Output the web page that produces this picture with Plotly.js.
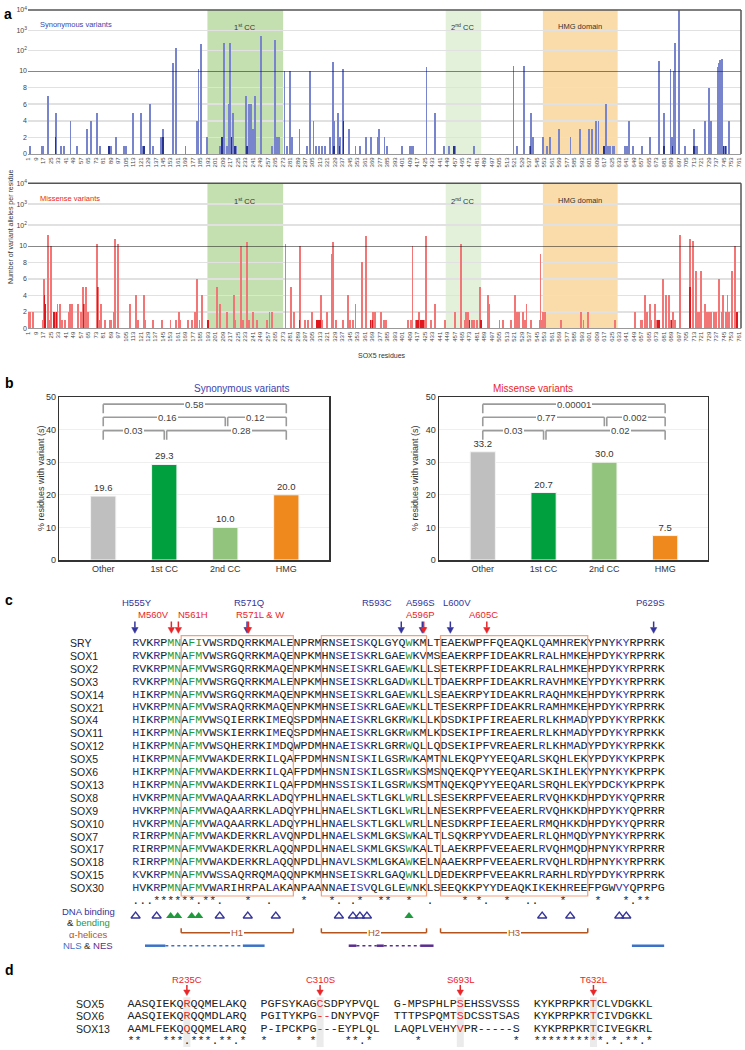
<!DOCTYPE html>
<html>
<head>
<meta charset="utf-8">
<script src="https://cdn.plot.ly/plotly-3.0.1.min.js"></script>
<style>
  body { margin: 0; background: #fff; }
  #fig { width: 745px; height: 1050px; }
</style>
</head>
<body>
<div id="fig"></div>
<script>
// ---------- panel a: variant alleles per SOX5 residue ----------
const synRes = [3,15,17,22,30,36,39,46,53,64,68,74,78,87,89,95,103,105,113,121,124,125,131,134,143,145,156,159,169,181,183,186,192,206,208,210,213,216,217,218,220,222,223,234,235,237,239,241,243,244,250,262,265,267,269,275,278,281,283,291,299,302,306,309,312,315,318,324,327,328,332,334,337,338,344,351,356,362,368,375,376,382,385,401,409,411,413,427,436,446,451,456,457,478,520,524,531,538,539,541,552,556,559,569,581,591,601,604,608,611,617,619,621,623,626,628,639,640,642,644,648,658,666,676,681,688,690,692,693,697,704,713,715,717,725,729,731,739,740,741,743,745,747,751];
const synVal = [1,1,1,7,5,1,1,4,1,3,4,5,1,1,1,2,1,1,5,5,1,1,6,1,2,3,26,140,1,4,12,212,2,1,2,247,1,6,247,2,5,1,1,7,1,6,6,3,7,1,550,1,333,2,2,10,1,10,2,3,1,10,4,1,1,1,1,2,29,4,5,2,10,13,3,1,1,2,2,2,3,2,1,1,1,1,1,15,5,1,1,1,1,1,18,1,18,1,5,2,2,1,2,3,2,3,3,3,4,4,1,6,1,1,1,1,1,1,1,4,1,1,2,32,5,12,2,10,250,9500,1,3,1,1,4,8,4,15,26,35,37,1,1,4];
const synDarkRes = [30,87,124,125,145,208,218,222,235,328,334,338,456,457,538,617,681,690,713,745,747];
const synDarkVal = [2,1,1,1,2,2,2,1,1,1,1,4,1,1,1,1,1,1,1,1,1];

const misRes = [2,3,6,16,18,19,22,23,25,28,29,31,32,35,37,40,44,45,48,54,57,59,60,62,63,65,74,75,76,77,79,83,88,89,92,94,97,110,116,118,125,126,134,144,153,159,162,163,172,176,179,181,184,187,193,203,206,213,221,222,228,231,235,237,241,246,256,259,262,276,282,285,291,292,297,300,304,310,311,313,314,315,320,326,327,330,338,343,345,348,351,358,362,367,369,370,372,378,381,384,407,410,412,416,418,419,421,423,424,426,427,432,436,447,457,464,468,469,471,473,476,478,481,484,485,493,494,505,509,517,522,524,526,530,532,534,539,548,549,550,552,554,571,592,595,600,629,650,656,658,661,663,666,667,671,672,674,676,680,683,686,689,691,693,698,709,712,715,717,719,721,725,727,729,731,735,737,740,743,744,747,749,751,754,757,759];
const misVal = [2,2,2,1,6,3,34,1,10,2,2,2,3,3,1,1,2,3,3,3,2,5,3,1,5,2,13,5,3,1,3,1,1,1,2,21,12,3,4,1,4,1,1,1,1,1,2,1,1,1,2,6,1,4,1,5,3,2,4,1,10,1,16,1,2,1,1,2,2,13,5,2,1,10,1,1,2,1,1,1,4,1,2,9,16,1,1,4,1,1,3,8,30,1,1,2,2,2,1,1,1,1,10,1,1,2,1,1,1,30,1,1,3,1,2,13,1,2,2,1,1,1,1,5,1,4,3,1,1,1,4,2,2,2,1,3,1,1,9,1,2,2,1,2,1,2,1,2,1,1,4,2,3,1,3,2,1,1,6,4,4,1,2,1,34,21,17,7,2,2,7,3,2,2,2,2,2,6,2,4,2,4,2,7,10,2];
const misDarkRes = [18,19,28,29,31,60,75,193,291,310,311,313,367,369,416,418,421,423,473,485,674,676,689,709,759];
const misDarkVal = [4,3,2,2,2,3,5,1,1,1,1,1,1,1,1,1,1,1,1,1,1,1,1,5,2];

const regionNames = ['1<sup>st</sup> CC', '2<sup>nd</sup> CC', 'HMG domain'];
const regionStart = [192.5, 447.5, 551.5];
const regionEnd = [273.5, 485.5, 631.5];
const regionFill = ['#c4e0b0', '#e3f0da', '#fadcaa'];

// ---------- panel b ----------
const bCats = ['Other', '1st CC', '2nd CC', 'HMG'];
const synPct = [19.6, 29.3, 10.0, 20.0];
const misPct = [33.2, 20.7, 30.0, 7.5];
const bColors = ['#bfbfbf', '#00a03e', '#93c47d', '#f0891d'];
const brFrom = [0, 0, 2, 0, 1];
const brTo = [3, 2, 3, 1, 3];
const brLevel = [47.8, 43.8, 43.8, 39.7, 39.7];
const brTextX = [1.5, 1.05, 2.5, 0.5, 2.27];
const synP = ['0.58', '0.16', '0.12', '0.03', '0.28'];
const misP = ['0.00001', '0.77', '0.002', '0.03', '0.02'];

// ---------- panel c ----------
const seqNames = ['SRY','SOX1','SOX2','SOX3','SOX14','SOX21','SOX4','SOX11','SOX12','SOX5','SOX6','SOX13','SOX8','SOX9','SOX10','SOX7','SOX17','SOX18','SOX15','SOX30'];
const seqs = [
  'RVKRPMNAFIVWSRDQRRKMALENPRMRNSEISKQLGYQWKMLTEAEKWPFFQEAQKLQAMHREKYPNYKYRPRRK',
  'RVKRPMNAFMVWSRGQRRKMAQENPKMHNSEISKRLGAEWKVMSEAEKRPFIDEAKRLRALHMKEHPDYKYRPRRK',
  'RVKRPMNAFMVWSRGQRRKMAQENPKMHNSEISKRLGAEWKLLSETEKRPFIDEAKRLRALHMKEHPDYKYRPRRK',
  'RVKRPMNAFMVWSRGQRRKMALENPKMHNSEISKRLGADWKLLTDAEKRPFIDEAKRLRAVHMKEYPDYKYRPRRK',
  'HIKRPMNAFMVWSRGQRRKMAQENPKMHNSEISKRLGAEWKLLSEAEKRPYIDEAKRLRAQHMKEHPDYKYRPRRK',
  'HVKRPMNAFMVWSRAQRRKMAQENPKMHNSEISKRLGAEWKLLTESEKRPFIDEAKRLRAMHMKEHPDYKYRPRRK',
  'HIKRPMNAFMVWSQIERRKIMEQSPDMHNAEISKRLGKRWKLLKDSDKIPFIREAERLRLKHMADYPDYKYRPRKK',
  'HIKRPMNAFMVWSKIERRKIMEQSPDMHNAEISKRLGKRWKMLKDSEKIPFIREAERLRLKHMADYPDYKYRPRKK',
  'HIKRPMNAFMVWSQHERRKIMDQWPDMHNAEISKRLGRRWQLLQDSEKIPFVREAERLRLKHMADYPDYKYRPRKK',
  'HIKRPMNAFMVWAKDERRKILQAFPDMHNSNISKILGSRWKAMTNLEKQPYYEEQARLSKQHLEKYPDYKYKPRPK',
  'HIKRPMNAFMVWAKDERRKILQAFPDMHNSNISKILGSRWKSMSNQEKQPYYEEQARLSKIHLEKYPNYKYKPRPK',
  'HIKRPMNAFMVWAKDERRKILQAFPDMHNSSISKILGSRWKSMTNQEKQPYYEEQARLSRQHLEKYPDCKYKPRPK',
  'HVKRPMNAFMVWAQAARRKLADQYPHLHNAELSKTLGKLWRLLSESEKRPFVEEAERLRVQHKKDHPDYKYQPRRR',
  'HVKRPMNAFMVWAQAARRKLADQYPHLHNAELSKTLGKLWRLLNESEKRPFVEEAERLRVQHKKDHPDYKYQPRRR',
  'HVKRPMNAFMVWAQAARRKLADQYPHLHNAELSKTLGKLWRLLNESDKRPFIEEAERLRMQHKKDHPDYKYQPRRR',
  'RIRRPMNAFMVWAKDERKRLAVQNPDLHNAELSKMLGKSWKALTLSQKRPYVDEAERLRLQHMQDYPNYKYRPRRK',
  'RIRRPMNAFMVWAKDERKRLAQQNPDLHNAELSKMLGKSWKALTLAEKRPFVEEAERLRVQHMQDHPNYKYRPRRR',
  'RIRRPMNAFMVWAKDERKRLAQQNPDLHNAVLSKMLGKAWKELNAAEKRPFVEEAERLRVQHLRDHPNYKYRPRRK',
  'KVKRPMNAFMVWSSAQRRQMAQQNPKMHNSEISKRLGAQWKLLDEDEKRPFVEEAKRLRARHLRDYPDYKYRPRRK',
  'HVKRPMNAFMVWARIHRPALAKANPAANNAEISVQLGLEWNKLSEEQKKPYYDEAQKIKEKHREEFPGWVYQPRPG'
];
const blueCols = [0,3,12,16,20,29,31,32,33,58,62,69,70];
const greenCols = [5,6,8,9,39];
const consStars = [3,4,5,6,7,8,10,11,16,24,28,32,35,36,39,47,49,53,61,66,70,72,73];
const consDots = [0,1,2,9,12,19,29,31,42,50,56,57,71];
const helixNames = ['H1','H2','H3'];
const helixStart = [7, 27, 44];
const helixEnd = [23, 42, 65];
const mutBlue = ['H555Y','R571Q','R593C','A596S','L600V','P629S'];
const mutBlueCol = [0, 16, 38, 41, 45, 74];
const mutBlueLabelX = [0.67, 16.73, 34.9, 41.07, 46.3, 73.9];
const mutRed = ['M560V','N561H','R571L &amp; W','A596P','A605C'];
const mutRedCol = [5, 6, 16, 41, 50];
const mutRedLabelX = [3.12, 8.74, 14.82, 41.07, 50.14];
const nlsFrom = [1.84, 4.74, 15.8, 30.9, 32.0, 34.9, 35.9, 41.1, 71.3];
const nlsTo = [4.74, 15.8, 18.9, 32.0, 34.9, 35.9, 41.1, 43.0, 75.9];
const nlsKind = ['NLS','NLSdot','NLS','NES','NESdot','NES','NESdot','NES','NLS'];

// ---------- panel d ----------
const dNames = ['SOX5','SOX6','SOX13'];
const dBlocks = [
  ['AASQIEKQRQQMELAKQ','PGFSYKAGCSDPYPVQL','G-MPSPHLPSEHSSVSSS','KYKPRPKRTCLVDGKKL'],
  ['AASQIEKQRQQMDLARQ','PGITYKPG--DNYPVQF','TTTPSPQMTSDCSSTSAS','KYKPRPKRTCIVDGKKL'],
  ['AAMLFEKQQQQMELARQ','P-IPCKPG---EYPLQL','LAQPLVEHYVPR-----S','KYKPRPKRTCIVEGKRL']
];
const dCons = ['**   ***.***.**.*','*    * *    **.* ','   *             *','**********.*.**.*'];
const dMut = ['R235C','C310S','S693L','T632L'];
const dMutCol = [8, 8, 9, 8];

// ---------- layout helpers ----------
const W = 745, H = 1050;
const SANS = 'Liberation Sans, Arial, sans-serif';
const MONO = 'Liberation Mono, Courier New, monospace';
const BLUE = '#34349c', GREEN = '#1f9a3c', RED = '#e8262a';
const NB = '\u00a0';
const xd = (a, b) => [a / W, b / W];
const yd = (top, bottom) => [1 - bottom / H, 1 - top / H];
const px = v => v / W;
const py = v => 1 - v / H;
const CW = 7.01;            // monospace character advance
const cLeft = 132.1, cRow0 = 643, cRowH = 12.9;
const dLeft = 127.3, dRow0 = 1004, dRowH = 12.3;

const traces = [];
const shapes = [];
const ann = [];

function txt(o) {
  ann.push(Object.assign({showarrow: false, borderpad: 0, borderwidth: 0,
    font: {family: SANS, size: 9, color: '#222'}}, o));
}
function line(xref, yref, x0, y0, x1, y1, color, width, dash) {
  shapes.push({type: 'line', xref: xref, yref: yref, x0: x0, y0: y0, x1: x1, y1: y1,
    line: {color: color, width: width, dash: dash || 'solid'}});
}
// down-pointing arrow: shaft + filled head
function arrow(xref, yref, x, yTail, yBase, yTip, hw, color) {
  line(xref, yref, x, yTail, x, yBase, color, 1.5);
  shapes.push({type: 'path', xref: xref, yref: yref,
    path: 'M ' + (x - hw) + ',' + yBase + ' L ' + (x + hw) + ',' + yBase + ' L ' + x + ',' + yTip + ' Z',
    fillcolor: color, line: {color: color, width: 0.5}});
}
// one text layer of monospace rows, centred on the middle column
function monoLayer(rows, xs, ys, xa, ya, color) {
  traces.push({type: 'scatter', mode: 'text', x: xs, y: ys, text: rows, xaxis: xa, yaxis: ya,
    textposition: 'middle center', cliponaxis: false, hoverinfo: 'skip',
    textfont: {family: MONO, size: 11.68, color: color}});
}
const mask = (s, keep) => s.split('').map((ch, i) => keep(i) ? ch : NB).join('');

// ---------- panel a ----------
const ticks = [];
for (let r = 1; r <= 763; r += 8) ticks.push(r);

function barSet(res, val, dRes, dVal, xa, yLow, yUp, light, dark) {
  const bigR = res.filter((r, i) => val[i] > 10);
  const bigV = val.filter(v => v > 10);
  traces.push({type: 'bar', x: res, y: val, xaxis: xa, yaxis: yLow, width: 2,
    marker: {color: light}, hoverinfo: 'skip'});
  traces.push({type: 'bar', x: bigR, y: bigV, xaxis: xa, yaxis: yUp, width: 2,
    marker: {color: light}, hoverinfo: 'skip'});
  traces.push({type: 'bar', x: dRes, y: dVal, xaxis: xa, yaxis: yLow, width: 1.6,
    marker: {color: dark}, hoverinfo: 'skip'});
}
barSet(synRes, synVal, synDarkRes, synDarkVal, 'x', 'y', 'y2', '#7885cc', '#26348f');
barSet(misRes, misVal, misDarkRes, misDarkVal, 'x2', 'y3', 'y4', '#f27676', '#e0171d');

const aCharts = [
  {top: 10, bottom: 154, xa: 'x', ylow: 'y', name: 'Synonymous variants', col: '#3b45b0', labY: 20},
  {top: 183.3, bottom: 328.3, xa: 'x2', ylow: 'y3', name: 'Missense variants', col: RED, labY: 194}
];
aCharts.forEach(c => {
  regionNames.forEach((n, i) => {
    shapes.push({type: 'rect', xref: c.xa, yref: 'paper', x0: regionStart[i], x1: regionEnd[i],
      y0: py(c.bottom), y1: py(c.top), fillcolor: regionFill[i], line: {width: 0}, layer: 'below'});
    txt({xref: c.xa, yref: 'paper', x: (regionStart[i] + regionEnd[i]) / 2, y: py(c.labY + 2),
      text: n, font: {family: SANS, size: 7.5, color: '#333'}});
  });
  line(c.xa, c.ylow, 0.5, 10, 763.5, 10, '#111', 1);
  line('paper', 'paper', px(28), py(c.top), px(741), py(c.top), '#555', 1.5);
  line('paper', 'paper', px(741), py(c.top), px(741), py(c.bottom), '#555', 1.5);
  txt({xref: 'paper', yref: 'paper', x: px(40), y: py(c.labY), xanchor: 'left',
    text: c.name, font: {family: SANS, size: 7.5, color: c.col}});
});
txt({xref: 'paper', yref: 'paper', x: px(7), y: py(170), textangle: -90,
  text: 'Number of variant alleles per residue', font: {family: SANS, size: 7, color: '#333'}});
txt({xref: 'paper', yref: 'paper', x: px(382), y: py(355),
  text: 'SOX5 residues', font: {family: SANS, size: 7, color: '#333'}});

const xA = {range: [0.5, 763.5], domain: xd(28, 741), tickmode: 'array', tickvals: ticks,
  ticktext: ticks.map(String), tickangle: -90, tickfont: {family: SANS, size: 6, color: '#444'},
  showline: true, linecolor: '#999', linewidth: 1, ticks: '', showgrid: false, zeroline: false};
const yLowA = {range: [0, 10], tickmode: 'array', tickvals: [0, 2, 4, 6, 8, 10],
  tickfont: {family: SANS, size: 7, color: '#444'}, gridcolor: '#e1e1e1', gridwidth: 1.5,
  zeroline: false, ticks: ''};
const yUpA = {type: 'log', range: [1, 4], tickmode: 'array', tickvals: [100, 1000, 10000],
  ticktext: ['10<sup>2</sup>', '10<sup>3</sup>', '10<sup>4</sup>'],
  tickfont: {family: SANS, size: 7, color: '#444'}, gridcolor: '#e1e1e1', gridwidth: 1.5,
  zeroline: false, ticks: ''};

// ---------- panel b ----------
function bChart(vals, pvals, xa, ya, title, titleCol, titleX, ytX) {
  traces.push({type: 'bar', x: [0, 1, 2, 3], y: vals, xaxis: xa, yaxis: ya, width: 0.415,
    marker: {color: bColors, line: {color: '#f4f4f4', width: 1}},
    text: vals.map(v => v.toFixed(1)), textposition: 'outside', cliponaxis: false,
    textfont: {family: SANS, size: 9.5, color: '#333'}, hoverinfo: 'skip'});
  brFrom.forEach((f, i) => {
    const x0 = f + (i === 2 || i === 4 ? 0.04 : 0);
    const x1 = brTo[i];
    const lv = brLevel[i];
    line(xa, ya, x0, lv, x1, lv, '#9b9b9b', 1.6);
    line(xa, ya, x0, lv, x0, lv - 2.8, '#9b9b9b', 1.6);
    line(xa, ya, x1, lv, x1, lv - 2.8, '#9b9b9b', 1.6);
    txt({xref: xa, yref: ya, x: brTextX[i], y: lv, text: pvals[i], bgcolor: '#fff', borderpad: 1,
      font: {family: SANS, size: 9.5, color: '#444'}});
  });
  txt({xref: 'paper', yref: 'paper', x: px(titleX), y: py(388), text: title,
    font: {family: SANS, size: 10, color: titleCol}});
  txt({xref: 'paper', yref: 'paper', x: px(ytX), y: py(478), textangle: -90,
    text: '% residues with variant (s)', font: {family: SANS, size: 9, color: '#333'}});
}
bChart(synPct, synP, 'x3', 'y5', 'Synonymous variants', '#3b45b0', 194, 36);
bChart(misPct, misP, 'x4', 'y6', 'Missense variants', RED, 573, 415);

const xB = {range: [-0.72, 3.7], tickmode: 'array', tickvals: [0, 1, 2, 3], ticktext: bCats,
  tickfont: {family: SANS, size: 9, color: '#333'}, showline: true, mirror: true,
  linecolor: '#333', linewidth: 1.5, ticks: '', showgrid: false, zeroline: false};
const yB = {range: [0, 50], dtick: 10, tickfont: {family: SANS, size: 9, color: '#333'},
  showline: true, mirror: true, linecolor: '#333', linewidth: 1.5, ticks: '',
  gridcolor: '#efefef', zeroline: false};

// ---------- panel c ----------
const cy = p => (p - cRow0) / cRowH;
const rowIdx = seqs.map((s, i) => i);
const rowMid = seqs.map(s => s.length / 2);
const isBlue = i => blueCols.includes(i), isGreen = i => greenCols.includes(i);
monoLayer(seqs.map(s => mask(s, i => !isBlue(i) && !isGreen(i))), rowMid, rowIdx, 'x5', 'y7', '#222');
monoLayer(seqs.map(s => mask(s, isBlue)), rowMid, rowIdx, 'x5', 'y7', BLUE);
monoLayer(seqs.map(s => mask(s, isGreen)), rowMid, rowIdx, 'x5', 'y7', GREEN);
seqNames.forEach((n, i) => txt({xref: 'x5', yref: 'y7', x: (70.3 - cLeft) / CW, y: i,
  xanchor: 'left', text: n, font: {family: SANS, size: 10.5, color: '#222'}}));
let cons = '';
for (let i = 0; i < 76; i++) cons += consStars.includes(i) ? '*' : consDots.includes(i) ? '.' : NB;
monoLayer([cons], [38], [cy(901)], 'x5', 'y7', '#222');

helixNames.forEach((n, i) => {
  shapes.push({type: 'rect', xref: 'x5', yref: 'y7', x0: helixStart[i], x1: helixEnd[i],
    y0: cy(635.7), y1: cy(896), line: {color: '#f3a07e', width: 1.2}});
  const hy = cy(932.7), ht = cy(928.3);
  line('x5', 'y7', helixStart[i], hy, helixEnd[i], hy, '#b4531c', 1.5);
  line('x5', 'y7', helixStart[i], hy, helixStart[i], ht, '#b4531c', 1.5);
  line('x5', 'y7', helixEnd[i], hy, helixEnd[i], ht, '#b4531c', 1.5);
  txt({xref: 'x5', yref: 'y7', x: (helixStart[i] + helixEnd[i]) / 2, y: hy, text: n,
    bgcolor: '#fff', borderpad: 1, font: {family: SANS, size: 9.5, color: '#b4531c'}});
});
// DNA-binding (open) and DNA-bending (filled) residue markers
traces.push({type: 'scatter', mode: 'markers', x: blueCols.map(c => c + 0.5),
  y: blueCols.map(() => cy(916)), xaxis: 'x5', yaxis: 'y7', hoverinfo: 'skip', cliponaxis: false,
  marker: {symbol: 'triangle-up-open', size: 8, color: BLUE, line: {width: 1.3, color: BLUE}}});
traces.push({type: 'scatter', mode: 'markers', x: greenCols.map(c => c + 0.5),
  y: greenCols.map(() => cy(916)), xaxis: 'x5', yaxis: 'y7', hoverinfo: 'skip', cliponaxis: false,
  marker: {symbol: 'triangle-up', size: 8, color: GREEN, line: {width: 0}}});
nlsFrom.forEach((f, i) => {
  const k = nlsKind[i];
  const col = k.startsWith('NLS') ? '#3b72c8' : '#5b2d91';
  const dot = k.endsWith('dot');
  line('x5', 'y7', f, cy(945.7), nlsTo[i], cy(945.7), col, dot ? 1.5 : 2.5, dot ? 'dot' : 'solid');
});
const legX = (88 - cLeft) / CW;
txt({xref: 'x5', yref: 'y7', x: legX, y: cy(911), text: 'DNA binding',
  font: {family: SANS, size: 9.5, color: BLUE}});
txt({xref: 'x5', yref: 'y7', x: legX, y: cy(922.5),
  text: '& <span style="color:' + GREEN + '">bending</span>', font: {family: SANS, size: 9.5, color: '#222'}});
txt({xref: 'x5', yref: 'y7', x: legX, y: cy(934), text: '\u03b1-helices',
  font: {family: SANS, size: 9.5, color: '#b4531c'}});
txt({xref: 'x5', yref: 'y7', x: legX, y: cy(945.5),
  text: '<span style="color:#3b72c8">NLS</span> & <span style="color:#5b2d91">NES</span>',
  font: {family: SANS, size: 9.5, color: '#333'}});

const hwC = 3.2 / CW;
mutBlue.forEach((m, i) => {
  txt({xref: 'x5', yref: 'y7', x: mutBlueLabelX[i], y: cy(602.5), text: m,
    font: {family: SANS, size: 9.5, color: BLUE}});
  arrow('x5', 'y7', mutBlueCol[i] + 0.4, cy(621.5), cy(627.5), cy(633.3), hwC, BLUE);
});
mutRed.forEach((m, i) => {
  txt({xref: 'x5', yref: 'y7', x: mutRedLabelX[i], y: cy(614), text: m,
    xanchor: i === 2 ? 'left' : 'center', font: {family: SANS, size: 9.5, color: RED}});
  arrow('x5', 'y7', mutRedCol[i] + 0.6, cy(621.5), cy(627.5), cy(633.3), hwC, RED);
});

// ---------- panel d ----------
const dy = p => (p - dRow0) / dRowH;
const blockStart = [0, 19, 38, 58];
const dRows = dBlocks.map(b => b.join('  '));
const redCells = dRows.map((s, r) => i => blockStart.some((b, k) => i === b + dMutCol[k]) ||
  (r === 1 && i === blockStart[1] + 9));
const dStars = dCons.join('  ');
const starRed = i => i === blockStart[3] + dMutCol[3];
monoLayer(dRows.map((s, r) => mask(s, i => !redCells[r](i) && s[i] !== ' ')), [37.5, 37.5, 37.5], [0, 1, 2], 'x6', 'y8', '#222');
monoLayer(dRows.map((s, r) => mask(s, redCells[r])), [37.5, 37.5, 37.5], [0, 1, 2], 'x6', 'y8', RED);
monoLayer([mask(dStars, i => !starRed(i) && dStars[i] !== ' ')], [37.5], [3], 'x6', 'y8', '#222');
monoLayer([mask(dStars, starRed)], [37.5], [3], 'x6', 'y8', RED);
dMut.forEach((m, k) => {
  const c = blockStart[k] + dMutCol[k];
  shapes.push({type: 'rect', xref: 'x6', yref: 'y8', x0: c, x1: c + 1, y0: -0.55, y1: 3.5,
    fillcolor: '#ebebeb', line: {width: 0}, layer: 'below'});
  txt({xref: 'x6', yref: 'y8', x: c + 0.5, y: dy(979.3), text: m,
    font: {family: SANS, size: 9.5, color: RED}});
  arrow('x6', 'y8', c + 0.5, dy(985), dy(990), dy(995.5), hwC, RED);
});
dNames.forEach((n, r) => txt({xref: 'x6', yref: 'y8', x: (76 - dLeft) / CW, y: r,
  xanchor: 'left', text: n, font: {family: SANS, size: 10.5, color: '#222'}}));

// panel letters
[['a', 4, 6], ['b', 5, 383], ['c', 5, 600], ['d', 5, 978]].forEach(l =>
  txt({xref: 'paper', yref: 'paper', x: px(l[1]), y: py(l[2]), xanchor: 'left',
    text: '<b>' + l[0] + '</b>', font: {family: SANS, size: 14, color: '#000'}}));

const hidden = {visible: false, fixedrange: true};
const layout = {
  width: W, height: H, margin: {l: 0, r: 0, t: 0, b: 0}, showlegend: false,
  paper_bgcolor: '#fff', plot_bgcolor: 'rgba(0,0,0,0)', barmode: 'overlay', bargap: 0,
  xaxis: Object.assign({}, xA, {anchor: 'y'}),
  yaxis: Object.assign({}, yLowA, {domain: yd(71, 154), anchor: 'x'}),
  yaxis2: Object.assign({}, yUpA, {domain: yd(10, 71), anchor: 'x'}),
  xaxis2: Object.assign({}, xA, {anchor: 'y3'}),
  yaxis3: Object.assign({}, yLowA, {domain: yd(246, 328.3), anchor: 'x2'}),
  yaxis4: Object.assign({}, yUpA, {domain: yd(183.3, 246), anchor: 'x2'}),
  xaxis3: Object.assign({}, xB, {domain: xd(59.3, 329), anchor: 'y5'}),
  yaxis5: Object.assign({}, yB, {domain: yd(397, 560), anchor: 'x3'}),
  xaxis4: Object.assign({}, xB, {domain: xd(439, 707.7), anchor: 'y6'}),
  yaxis6: Object.assign({}, yB, {domain: yd(397, 560), anchor: 'x4'}),
  xaxis5: Object.assign({}, hidden, {domain: xd(cLeft - 10 * CW, cLeft + 80 * CW), range: [-10, 80], anchor: 'y7'}),
  yaxis7: Object.assign({}, hidden, {domain: yd(590, 960), range: [cy(960), cy(590)], anchor: 'x5'}),
  xaxis6: Object.assign({}, hidden, {domain: xd(dLeft - 8 * CW, dLeft + 76 * CW), range: [-8, 76], anchor: 'y8'}),
  yaxis8: Object.assign({}, hidden, {domain: yd(962, 1050), range: [dy(1050), dy(962)], anchor: 'x6'}),
  shapes: shapes,
  annotations: ann
};

Plotly.newPlot('fig', traces, layout, {staticPlot: true, displayModeBar: false});
</script>
</body>
</html>
